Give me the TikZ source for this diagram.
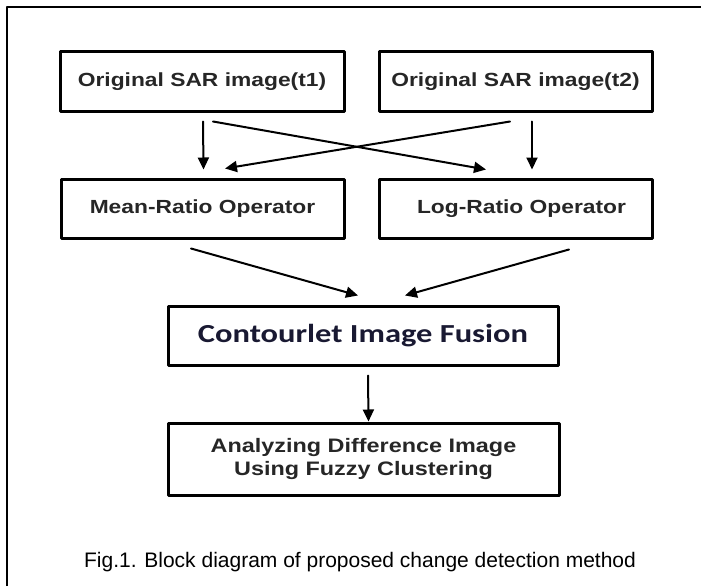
\documentclass[tikz,border=0pt]{standalone}
\usepackage{fontspec}
\setmainfont{Liberation Sans}
\newfontfamily\boxfont[FakeStretch=1.2]{Liberation Sans}
\newfontfamily\fusionfont[FakeStretch=1.25]{Carlito}
\usepackage{tikz}
\usetikzlibrary{arrows.meta}
\definecolor{fusiontext}{RGB}{25,25,50}

\tikzset{
  blockbox/.style={draw=black, line width=3pt, inner sep=0pt, minimum height=59pt,
    font=\boxfont\bfseries\fontsize{19}{23}\selectfont, text=black!85},
  arr/.style={->, line width=2pt}
}

\begin{document}
\begin{tikzpicture}[line cap=round,line join=round,>={Triangle[width=11pt,length=12pt]},x=1pt,y=-1pt]

		\useasboundingbox (0,0) rectangle (701,586);

		%kehys (vain vasen ja ylä)
		\draw[line width=2pt,line cap=butt] (7,586)--(7,7)--(701,7);

		%laatikot
		\node[blockbox, minimum width=284pt] (sar1) at (202,81.5) {Original SAR image(t1)};
		\node[blockbox, minimum width=273pt] (sar2) at (515.5,81.5) {Original SAR image(t2)};

		\node[blockbox, minimum width=283pt] (mean) at (202.5,208.5) {Mean-Ratio Operator};
		\node[blockbox, minimum width=273pt] (logr) at (515.5,208.5) {\hspace*{12pt}Log-Ratio Operator};

		\node[blockbox, minimum width=390pt, font=\fusionfont\bfseries\fontsize{26}{30}\selectfont,
			text=fusiontext] (fusion) at (363,335.5) {Contourlet Image Fusion};

		\node[blockbox, minimum width=391pt, minimum height=72pt, align=center,
			font=\boxfont\bfseries\fontsize{19.5}{23}\selectfont] (fuzzy) at (363.5,459)
			{Analyzing Difference Image\\Using Fuzzy Clustering};

		% kuvateksti
		\node[font=\fontsize{21}{25}\selectfont] (caption) at (360,562)
			{Fig.1. Block diagram of proposed change detection method};

		% nuolet
		\draw[arr] ([xshift=1pt,yshift=-9pt]sar1.south)--([xshift=1pt,yshift=8pt]mean.north);
		\draw[arr] ([xshift=16.5pt,yshift=-9pt]sar2.south)--([xshift=16.5pt,yshift=8pt]logr.north);

		\draw[arr] ([xshift=11pt,yshift=-9pt]sar1.south)--([xshift=-29.5pt,yshift=8pt]logr.north);
		\draw[arr] ([xshift=-5.5pt,yshift=-9pt]sar2.south)--([xshift=22.5pt,yshift=9pt]mean.north);

		\draw[arr] ([xshift=-11.5pt,yshift=-9pt]mean.south)--([xshift=-5pt,yshift=9pt]fusion.north);
		\draw[arr] ([xshift=53.5pt,yshift=-10pt]logr.south)--([xshift=42pt,yshift=9pt]fusion.north);

		\draw[arr] ([xshift=5pt,yshift=-9pt]fusion.south)--([xshift=5pt]fuzzy.north);

	\end{tikzpicture}
\end{document}
